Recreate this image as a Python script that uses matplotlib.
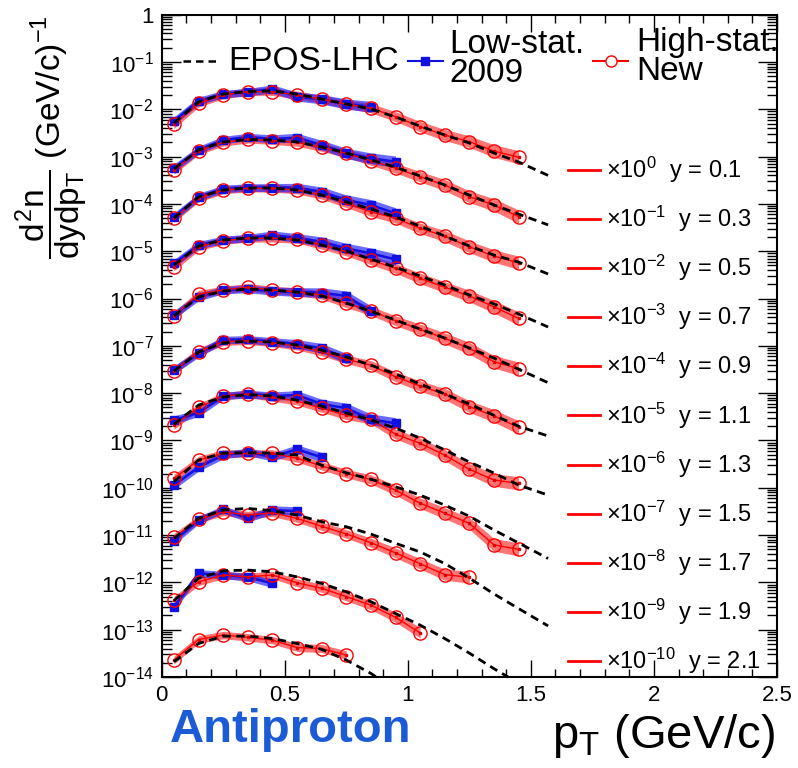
import numpy as np
import matplotlib
matplotlib.use("Agg")
import matplotlib.pyplot as plt
from matplotlib.ticker import LogLocator, MultipleLocator, FuncFormatter, NullFormatter

plt.rcParams['font.family'] = ['Liberation Sans', 'DejaVu Sans']
plt.rcParams['mathtext.fontset'] = 'custom'
plt.rcParams['mathtext.rm'] = 'Liberation Sans'
plt.rcParams['mathtext.it'] = 'Liberation Sans'
plt.rcParams['mathtext.sf'] = 'Liberation Sans'
plt.rcParams['mathtext.bf'] = 'Liberation Sans:bold'

# pT bin centres (GeV/c)
pt = [0.05, 0.15, 0.25, 0.35, 0.45, 0.55, 0.65, 0.75, 0.85, 0.95, 1.05, 1.15, 1.25, 1.35, 1.45]
pt_epos = [0.05, 0.15, 0.25, 0.35, 0.45, 0.55, 0.65, 0.75, 0.85, 0.95, 1.05, 1.15, 1.25, 1.35, 1.45, 1.57]

rapidity = [0.1, 0.3, 0.5, 0.7, 0.9, 1.1, 1.3, 1.5, 1.7, 1.9, 2.1]
scale_exp = [0, -1, -2, -3, -4, -5, -6, -7, -8, -9, -10]

# high-stat. (new) data, unscaled d2n/dydpT
high_01 = [4.8e-3, 1.34e-2, 2.0e-2, 2.36e-2, 2.36e-2, 2.0e-2, 1.63e-2, 1.29e-2, 1.05e-2, 7.0e-3, 4.3e-3, 2.86e-3, 2.07e-3, 1.31e-3, 9.7e-4]
high_03 = [5.2e-3, 1.31e-2, 2.0e-2, 2.32e-2, 2.17e-2, 2.0e-2, 1.57e-2, 1.17e-2, 8.2e-3, 5.7e-3, 3.76e-3, 2.51e-3, 1.42e-3, 9.5e-4, 5.4e-4]
high_05 = [5.0e-3, 1.31e-2, 1.97e-2, 2.14e-2, 2.14e-2, 1.97e-2, 1.54e-2, 1.03e-2, 6.8e-3, 5.0e-3, 3.05e-3, 2.09e-3, 1.24e-3, 7.9e-4, 5.7e-4]
high_07 = [4.7e-3, 1.24e-2, 1.67e-2, 1.87e-2, 1.87e-2, 1.79e-2, 1.35e-2, 9.8e-3, 6.5e-3, 4.35e-3, 2.67e-3, 1.73e-3, 1.13e-3, 6.7e-4, 3.8e-4]
high_09 = [4.3e-3, 1.24e-2, 1.51e-2, 1.73e-2, 1.51e-2, 1.39e-2, 1.19e-2, 7.9e-3, 5.5e-3, 3.4e-3, 2.23e-3, 1.44e-3, 8.9e-4, 4.6e-4, 3.3e-4]
high_11 = [3.0e-3, 7.5e-3, 1.22e-2, 1.28e-2, 1.16e-2, 9.9e-3, 7.5e-3, 5.2e-3, 3.9e-3, 2.22e-3, 1.41e-3, 9.6e-4, 5.2e-4, 3.3e-4, 1.9e-4]
high_13 = [2.1e-3, 5.0e-3, 8.7e-3, 9.6e-3, 8.1e-3, 6.8e-3, 4.8e-3, 3.4e-3, 2.8e-3, 1.36e-3, 8.7e-4, 4.9e-4, 2.45e-4, 1.46e-4, 1.24e-4]
high_15 = [1.58e-3, 3.85e-3, 5.3e-3, 5.3e-3, 5.3e-3, 4.2e-3, 2.9e-3, 2.0e-3, 1.5e-3, 8.9e-4, 4.7e-4, 2.9e-4, 1.77e-4, 6.2e-5, 5.0e-5]
high_17 = [8.9e-4, 2.15e-3, 3.1e-3, 2.65e-3, 2.96e-3, 2.25e-3, 1.53e-3, 1.06e-3, 6.9e-4, 4.2e-4, 2.47e-4, 1.46e-4, 1.28e-4]
high_19 = [4.2e-4, 1.03e-3, 1.43e-3, 1.31e-3, 1.43e-3, 9.8e-4, 7.5e-4, 5.0e-4, 3.3e-4, 1.82e-4, 8.6e-5]
high_21 = [2.3e-4, 6.2e-4, 7.7e-4, 6.9e-4, 6.0e-4, 4.2e-4, 4.0e-4, 2.9e-4]

# low-stat. 2009 data
low_01 = [5.7e-3, 1.5e-2, 2.1e-2, 2.3e-2, 2.7e-2, 1.85e-2, 1.63e-2, 1.29e-2, 1.13e-2]
low_03 = [5.7e-3, 1.38e-2, 2.24e-2, 2.59e-2, 2.36e-2, 2.51e-2, 1.76e-2, 1.17e-2, 9.2e-3, 7.8e-3]
low_05 = [5.3e-3, 1.4e-2, 2.07e-2, 2.22e-2, 2.2e-2, 2.2e-2, 1.81e-2, 1.21e-2, 9.5e-3, 6.3e-3]
low_07 = [5.5e-3, 1.35e-2, 1.73e-2, 1.9e-2, 2.2e-2, 1.9e-2, 1.59e-2, 1.15e-2, 9.0e-3, 6.7e-3]
low_09 = [4.5e-3, 1.08e-2, 1.51e-2, 1.59e-2, 1.44e-2, 1.37e-2, 1.33e-2, 1.13e-2, 5.4e-3]
low_11 = [3.1e-3, 6.9e-3, 1.33e-2, 1.37e-2, 1.22e-2, 1.09e-2, 8.9e-3, 5.4e-3]
low_13 = [2.7e-3, 3.85e-3, 8.7e-3, 9.6e-3, 8.7e-3, 9.1e-3, 5.9e-3, 4.8e-3, 2.8e-3, 2.3e-3]
low_15 = [1.14e-3, 2.7e-3, 4.9e-3, 5.7e-3, 4.5e-3, 6.5e-3, 4.4e-3]
low_17 = [7.6e-4, 2.07e-3, 3.5e-3, 2.25e-3, 3.4e-3, 3.2e-3]
low_19 = [3.0e-4, 1.55e-3, 1.43e-3, 1.29e-3, 9.5e-4]
low_21 = []

# EPOS-LHC prediction
epos_01 = [5.1e-3, 1.43e-2, 2.1e-2, 2.38e-2, 2.44e-2, 2.1e-2, 1.65e-2, 1.29e-2, 1.01e-2, 6.9e-3, 4.4e-3, 2.86e-3, 1.94e-3, 1.19e-3, 7.7e-4, 4.0e-4]
epos_03 = [5.5e-3, 1.38e-2, 2.04e-2, 2.3e-2, 2.24e-2, 2.04e-2, 1.6e-2, 1.19e-2, 8.5e-3, 6.0e-3, 3.9e-3, 2.51e-3, 1.54e-3, 9.5e-4, 6.1e-4, 3.6e-4]
epos_05 = [5.0e-3, 1.4e-2, 1.97e-2, 2.17e-2, 2.17e-2, 1.97e-2, 1.54e-2, 1.1e-2, 7.8e-3, 5.3e-3, 3.4e-3, 2.09e-3, 1.29e-3, 8.3e-4, 5.9e-4, 3.3e-4]
epos_07 = [5.1e-3, 1.29e-2, 1.73e-2, 1.9e-2, 1.9e-2, 1.73e-2, 1.35e-2, 1.01e-2, 6.8e-3, 4.6e-3, 3.0e-3, 1.93e-3, 1.19e-3, 7.7e-4, 4.7e-4, 2.5e-4]
epos_09 = [4.3e-3, 1.08e-2, 1.44e-2, 1.59e-2, 1.51e-2, 1.37e-2, 1.13e-2, 8.0e-3, 5.4e-3, 3.5e-3, 2.26e-3, 1.46e-3, 9.0e-4, 5.5e-4, 3.2e-4, 1.66e-4]
epos_11 = [2.9e-3, 7.4e-3, 1.15e-2, 1.26e-2, 1.2e-2, 1.04e-2, 8.1e-3, 5.8e-3, 3.9e-3, 2.54e-3, 1.56e-3, 9.6e-4, 5.9e-4, 3.4e-4, 2.0e-4, 1.24e-4]
epos_13 = [2.2e-3, 5.6e-3, 8.3e-3, 9.3e-3, 8.7e-3, 7.1e-3, 5.3e-3, 3.8e-3, 2.7e-3, 1.83e-3, 1.12e-3, 6.3e-4, 3.5e-4, 2.05e-4, 1.14e-4, 7.0e-5]
epos_15 = [1.34e-3, 3.85e-3, 5.4e-3, 5.5e-3, 5.4e-3, 4.9e-3, 3.0e-3, 2.07e-3, 1.51e-3, 1.05e-3, 7.0e-4, 4.3e-4, 2.5e-4, 1.28e-4, 6.8e-5, 3.2e-5]
epos_17 = [8.5e-4, 2.25e-3, 3.4e-3, 3.66e-3, 3.27e-3, 2.65e-3, 1.91e-3, 1.5e-3, 1.05e-3, 6.7e-4, 4.4e-4, 2.5e-4, 1.23e-4, 5.7e-5, 2.8e-5, 1.2e-5]
epos_19 = [4.1e-4, 1.22e-3, 1.76e-3, 1.82e-3, 1.67e-3, 1.31e-3, 9.5e-4, 6.3e-4, 3.9e-4, 2.2e-4, 1.25e-4, 6.5e-5, 3.2e-5, 1.5e-5, 7.4e-6, 2.5e-6]
epos_21 = [2.1e-4, 5.1e-4, 7.3e-4, 7.3e-4, 6.5e-4, 5.1e-4, 3.84e-4, 2.28e-4, 1.19e-4, 5.3e-5]

# relative systematic uncertainties per pT bin
syst_high = [0.22, 0.2, 0.2, 0.2, 0.2, 0.21, 0.22, 0.23, 0.25, 0.27, 0.29, 0.31, 0.33, 0.36, 0.38]
syst_low = [0.22, 0.2, 0.2, 0.2, 0.22, 0.24, 0.26, 0.28, 0.3, 0.32]

high = [high_01, high_03, high_05, high_07, high_09, high_11, high_13, high_15, high_17, high_19, high_21]
low = [low_01, low_03, low_05, low_07, low_09, low_11, low_13, low_15, low_17, low_19, low_21]
epos = [epos_01, epos_03, epos_05, epos_07, epos_09, epos_11, epos_13, epos_15, epos_17, epos_19, epos_21]

fig = plt.figure(figsize=(7.98, 7.68), dpi=100)
ax = fig.add_axes([0.2026, 0.1185, 0.7711, 0.8624])

for i in range(len(rapidity)):
    f = 10.0 ** scale_exp[i]
    yh = np.array(high[i]) * f
    xh = pt[:len(yh)]
    sh = 1 + np.array(syst_high[:len(yh)])
    ax.fill_between(xh, yh / sh, yh * sh, color="#ff5c5c", alpha=0.85, lw=0, zorder=2)
    if len(low[i]) > 0:
        yl = np.array(low[i]) * f
        xl = pt[:len(yl)]
        sl = 1 + np.array(syst_low[:len(yl)])
        ax.fill_between(xl, yl / sl, yl * sl, color="#1a1aff", alpha=0.65, lw=0, zorder=3)
        ax.plot(xl, yl, color="#1010e0", lw=1.8, marker="s", ms=6, zorder=4)
    ax.plot(xh, yh, color="red", lw=1.0, marker="o", ms=9.5, mfc="none", mew=1.0, zorder=5)
    ax.plot(xh, yh, ls="none", color="#e00000", marker="s", ms=2, zorder=5)
    ye = np.array(epos[i]) * f
    ax.plot(pt_epos[:len(ye)], ye, color="black", lw=2.0, ls="--", dashes=(3, 2), zorder=6)

ax.set_yscale("log")
ax.set_xlim(0, 2.5)
ax.set_ylim(1e-14, 1)

def ylab(v, pos):
    e = int(round(np.log10(v)))
    if e == 0:
        return "1"
    return r"$10^{%d}$" % e

ax.yaxis.set_major_locator(LogLocator(base=10, numticks=30))
ax.yaxis.set_minor_locator(LogLocator(base=10, subs=np.arange(2, 10), numticks=300))
ax.yaxis.set_major_formatter(FuncFormatter(ylab))
ax.yaxis.set_minor_formatter(NullFormatter())
ax.xaxis.set_major_locator(MultipleLocator(0.5))
ax.xaxis.set_minor_locator(MultipleLocator(0.1))
ax.xaxis.set_major_formatter(FuncFormatter(lambda v, p: "%g" % v))
ax.tick_params(which="both", direction="in", top=True, right=True, labelsize=16, width=1)
ax.tick_params(axis="x", which="major", length=12, pad=6)
ax.tick_params(axis="x", which="minor", length=6)
ax.tick_params(axis="y", which="major", length=14, pad=6)
ax.tick_params(axis="y", which="minor", length=7)
for s in ax.spines.values():
    s.set_linewidth(1.5)

# top legend
yc = 0.93
ax.plot([0.035, 0.095], [yc, yc], color="black", lw=1.8, ls="--", dashes=(3, 2), transform=ax.transAxes)
ax.text(0.108, yc, "EPOS-LHC", fontsize=24, va="center", ha="left", transform=ax.transAxes)
ax.plot([0.400, 0.457], [yc, yc], color="#1010e0", lw=1.5, transform=ax.transAxes)
ax.plot([0.4287], [yc], color="#1010e0", marker="s", ms=6, transform=ax.transAxes)
ax.text(0.468, yc + 0.003, "Low-stat.\n2009", fontsize=24, va="center", ha="left", linespacing=0.95,
        transform=ax.transAxes)
ax.plot([0.701, 0.758], [yc, yc], color="red", lw=1.5, transform=ax.transAxes)
ax.plot([0.7295], [yc], color="red", marker="o", ms=8, mfc="white", mew=1, transform=ax.transAxes)
ax.text(0.772, yc + 0.006, "High-stat.\nNew", fontsize=24, va="center", ha="left", linespacing=0.95,
        transform=ax.transAxes)

# scale factors / rapidity labels
for i in range(len(rapidity)):
    yy = 1 - (155.3 + 49.1 * i) / 662.3
    ax.plot([0.660, 0.712], [yy, yy], color="red", lw=2, transform=ax.transAxes)
    ax.text(0.722, yy, r"$\times10^{%d}$  y = %.1f" % (scale_exp[i], rapidity[i]),
            fontsize=17, va="center", ha="left", transform=ax.transAxes)

fig.text(0.064, 0.822, r"$\dfrac{d^{2}n}{dydp_{T}}$ (GeV/c)$^{-1}$", rotation=90,
         fontsize=24, ha="center", va="center")
fig.text(0.971, 0.026, r"p$_{T}$ (GeV/c)", fontsize=34, ha="right", va="baseline")
fig.text(0.213, 0.034, "Antiproton", fontsize=34, fontweight="bold", color="#1c5bd6",
         ha="left", va="baseline")

fig.savefig("out.png", dpi=100)
